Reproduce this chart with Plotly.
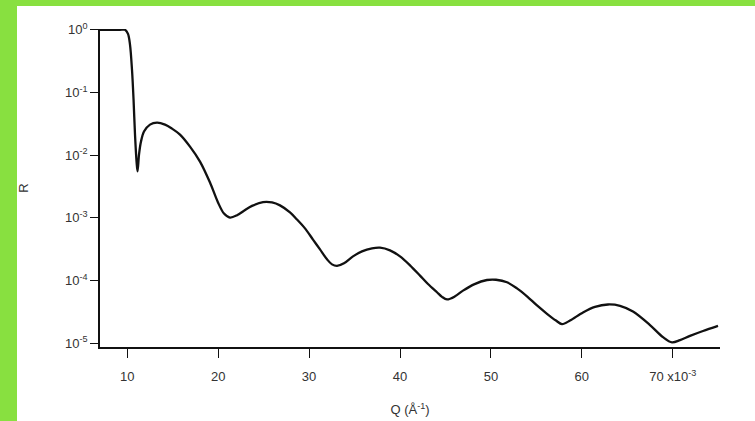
import plotly.graph_objects as go

# Reflectivity curve: Q in units of 1e-3 inverse angstrom, R dimensionless
q_milli = [
    7.0, 8.1, 9.2, 9.75, 10.08, 10.3, 10.52, 10.69, 10.85, 11.02, 11.13,
    11.29, 11.51, 11.84, 12.5, 13.27, 14.15, 14.92, 15.8, 16.9, 18.0,
    19.1, 19.98, 20.64, 21.3, 22.07, 22.84, 23.72, 24.93, 25.92, 26.8,
    27.9, 28.67, 29.55, 30.43, 31.2, 31.97, 32.52, 33.07, 33.84, 34.83,
    35.82, 36.92, 37.8, 38.9, 40.0, 41.1, 42.2, 43.08, 44.07, 44.62,
    45.17, 46.05, 46.93, 48.14, 49.57, 50.56, 51.77, 52.87, 53.97, 55.07,
    56.17, 57.16, 57.82, 58.7, 60.13, 61.45, 62.88, 64.2, 65.63, 67.5,
    68.93, 69.92, 70.8, 71.9, 73.33, 74.98,
]
reflectivity = [
    1.0, 1.0, 1.0, 1.0, 0.86, 0.58, 0.23, 0.077, 0.0213, 0.0079, 0.0055,
    0.0102, 0.0165, 0.0238, 0.0307, 0.033, 0.0307, 0.0265, 0.0213, 0.0137, 0.0079,
    0.00366, 0.00176, 0.00117, 0.00101, 0.0011, 0.0013, 0.00155, 0.00178, 0.00176, 0.00158,
    0.00122, 9.4e-4, 6.8e-4, 4.5e-4, 3.14e-4, 2.18e-4, 1.81e-4, 1.71e-4, 1.88e-4, 2.43e-4,
    2.92e-4, 3.26e-4, 3.34e-4, 3.03e-4, 2.43e-4, 1.75e-4, 1.2e-4, 8.8e-5, 6.5e-5, 5.5e-5,
    5.0e-5, 5.6e-5, 6.9e-5, 8.7e-5, 1.02e-4, 1.03e-4, 9.4e-5, 7.5e-5, 5.6e-5, 4.0e-5,
    2.95e-5, 2.3e-5, 2.02e-5, 2.3e-5, 3.1e-5, 3.8e-5, 4.15e-5, 3.95e-5, 3.2e-5, 1.95e-5,
    1.25e-5, 1.03e-5, 1.12e-5, 1.31e-5, 1.57e-5, 1.89e-5,
]

x_tick_vals = [10, 20, 30, 40, 50, 60, 70]
x_tick_text = ["10", "20", "30", "40", "50", "60", "70 x10<sup>-3</sup>"]
y_tick_vals = [1, 1e-1, 1e-2, 1e-3, 1e-4, 1e-5]
y_tick_text = ["10<sup>0</sup>", "10<sup>-1</sup>", "10<sup>-2</sup>",
               "10<sup>-3</sup>", "10<sup>-4</sup>", "10<sup>-5</sup>"]

W, H = 755, 421
ML, MR, MT, MB = 100, 35, 29, 74
GREEN = "#88E040"

fig = go.Figure()
fig.add_trace(go.Scatter(
    x=q_milli, y=reflectivity, mode="lines",
    line=dict(color="#111111", width=2.3, shape="spline", smoothing=0.9),
    hoverinfo="skip", showlegend=False,
))

# green frame strips along the left and top edges of the page
pw, ph = W - ML - MR, H - MT - MB
def px_x(v):
    return (v - ML) / pw
def px_y(v):
    return (H - MB - v) / ph

fig.add_shape(type="rect", xref="paper", yref="paper",
              x0=px_x(0), x1=px_x(17), y0=px_y(H), y1=px_y(0),
              fillcolor=GREEN, line=dict(width=0), layer="below")
fig.add_shape(type="rect", xref="paper", yref="paper",
              x0=px_x(0), x1=px_x(W), y0=px_y(6), y1=px_y(0),
              fillcolor=GREEN, line=dict(width=0), layer="below")

axis_font = dict(family="Liberation Sans, Arial, sans-serif", size=13, color="#333333")

fig.update_layout(
    width=W, height=H,
    margin=dict(l=ML, r=MR, t=MT, b=MB, autoexpand=False),
    paper_bgcolor="white", plot_bgcolor="rgba(0,0,0,0)",
    font=axis_font,
    xaxis=dict(
        range=[7, 75.2], showgrid=False, zeroline=False,
        showline=True, linecolor="#111111", linewidth=1.5,
        ticks="outside", ticklen=9, tickwidth=1.3, tickcolor="#111111",
        tickvals=x_tick_vals, ticktext=x_tick_text, tickfont=axis_font,
        ticklabelstandoff=8,
        title=dict(text="Q (Å<sup>-1</sup>)", font=axis_font, standoff=22),
    ),
    yaxis=dict(
        type="log", range=[-5.06, 0.012], showgrid=False, zeroline=False,
        showline=True, linecolor="#111111", linewidth=1.5,
        ticks="outside", ticklen=8, tickwidth=1.3, tickcolor="#111111",
        tickvals=y_tick_vals, ticktext=y_tick_text, tickfont=axis_font,
        title=dict(text="R", font=axis_font, standoff=34),
    ),
)

fig.write_html("out.html")
